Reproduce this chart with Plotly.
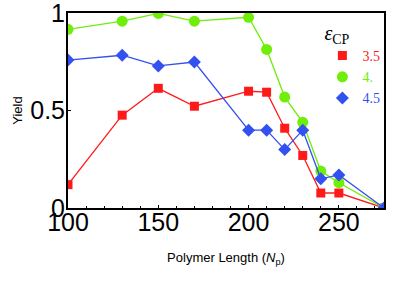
import plotly.graph_objects as go

lengths = [100, 130, 150, 170, 200, 210, 220, 230, 240, 250, 275]
yield_35 = [0.12, 0.477, 0.615, 0.523, 0.60, 0.595, 0.41, 0.27, 0.077, 0.077, 0.0]
yield_40 = [0.918, 0.96, 1.0, 0.96, 0.98, 0.815, 0.57, 0.44, 0.19, 0.13, 0.0]
yield_45 = [0.76, 0.785, 0.73, 0.75, 0.40, 0.40, 0.30, 0.40, 0.15, 0.17, 0.0]
series_names = ["3.5", "4.", "4.5"]
colors = ["#ff1a1a", "#6fee0a", "#3350f0"]
symbols = ["square", "circle", "diamond"]
sizes = [9, 11, 10]
x_ticks = [100, 150, 200, 250]
y_ticks = [0, 0.5, 1]
y_tick_text = ["0", "0.5", "1"]

fig = go.Figure()
for vals, name, col, sym, sz in zip([yield_35, yield_40, yield_45], series_names, colors, symbols, sizes):
    fig.add_trace(go.Scatter(
        x=lengths, y=vals, mode="lines+markers", showlegend=False,
        line=dict(color=col, width=1.3),
        marker=dict(color=col, symbol=sym, size=sz, line=dict(width=0)),
        cliponaxis=True,
    ))
# legend-only entries (marker only, no line)
for name, col, sym, sz in zip(series_names, colors, symbols, sizes):
    fig.add_trace(go.Scatter(
        x=[None], y=[None], mode="markers",
        name=f'<span style="color:{col}">{name}</span>',
        marker=dict(color=col, symbol=sym, size=sz, line=dict(width=0)),
    ))

fig.update_layout(
    width=415, height=281,
    margin=dict(l=68, r=31, t=13, b=73, autoexpand=False),
    paper_bgcolor="white", plot_bgcolor="white",
    font=dict(family="Liberation Sans, Arial", color="black"),
    showlegend=True,
    legend=dict(
        x=0.805, y=0.995, xanchor="left", yanchor="top",
        bgcolor="rgba(0,0,0,0)",
        font=dict(family="Liberation Serif, Times New Roman", size=14),
        title=dict(text="<i>ε</i><sub>CP</sub>",
                   font=dict(family="Liberation Serif, Times New Roman", size=20, color="black"),
                   side="top"),
        itemwidth=30,
        tracegroupgap=0,
    ),
    xaxis=dict(
        range=[100, 275], tickvals=x_ticks, ticktext=[str(v) for v in x_ticks],
        showgrid=False, zeroline=False, automargin=False,
        showline=True, linecolor="black", linewidth=2, mirror=True,
        ticks="inside", ticklen=3, tickcolor="black", tickwidth=1,
        minor=dict(dtick=10, ticks="inside", ticklen=2, tickcolor="black", tickwidth=1),
        tickfont=dict(size=25, family="Liberation Sans, Arial"),
        ticklabelstandoff=-9,
        ticklabeloverflow="allow",
        title=dict(text="Polymer Length (<i>N</i><sub>p</sub>)", font=dict(size=13), standoff=18),
    ),
    yaxis=dict(
        range=[0, 1.002], tickvals=y_ticks, ticktext=y_tick_text,
        showgrid=False, zeroline=False, automargin=False,
        showline=True, linecolor="black", linewidth=2, mirror=True,
        ticks="inside", ticklen=3, tickcolor="black", tickwidth=1,
        tickfont=dict(size=25, family="Liberation Sans, Arial"),
        ticklabelstandoff=-4,
        ticklabeloverflow="allow",
        title=dict(text="Yield", font=dict(size=13), standoff=5),
    ),
)

# remove the browser's default 8px body margin so the figure sits at the page corner
fig.write_html("out.html", config={"displayModeBar": False},
               post_script="document.body.style.margin='0';")
